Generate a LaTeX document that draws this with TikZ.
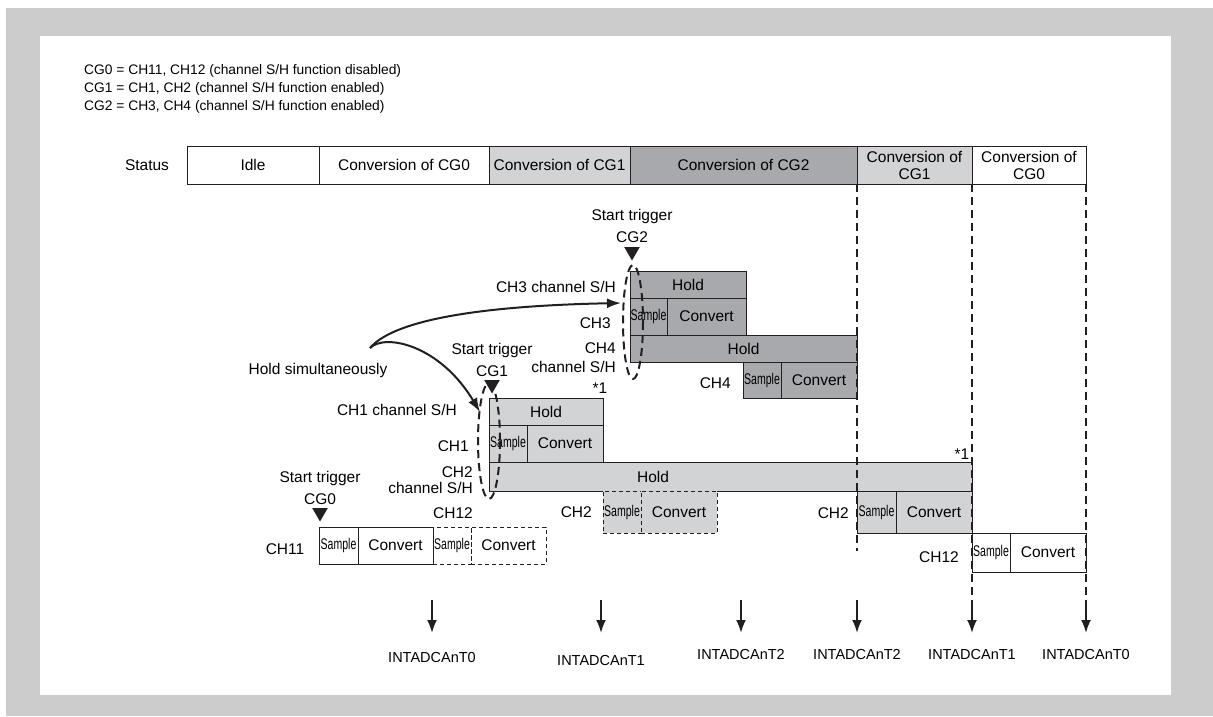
\documentclass[tikz,border=0pt]{standalone}
\usepackage{fontspec}
\setmainfont{Liberation Sans}
\usepackage{graphicx}
\usetikzlibrary{arrows.meta,positioning,shapes.geometric}

\definecolor{framegray}{RGB}{204,204,204}
\definecolor{cglight}{RGB}{209,211,212}
\definecolor{cgdark}{RGB}{167,169,172}
\definecolor{ink}{RGB}{35,31,32}
\newcommand{\smpl}{\scalebox{0.68}[1]{\fontsize{15.5}{15.5}\selectfont Sample}}

\begin{document}
\begin{tikzpicture}[
  x=1pt, y=-1pt,
  font=\fontsize{15.5}{17}\selectfont,
  seg/.style={draw=ink, line width=1pt, anchor=north west, inner sep=0pt, outer sep=0pt, align=center},
  dseg/.style={seg, dash pattern=on 4pt off 3pt},
  lbl/.style={inner sep=0pt},
  rlbl/.style={inner sep=0pt, anchor=east},
  trig/.style={regular polygon, regular polygon sides=3, shape border rotate=180,
               fill=ink, minimum size=18pt, inner sep=0pt},
  vdash/.style={draw=ink, line width=2pt, dash pattern=on 8pt off 5pt},
  hs/.style={draw=ink, line width=2pt, -{Latex[length=14pt,width=10pt]}},
  irq/.style={draw=ink, line width=2pt, -{Latex[length=13pt,width=10pt]}},
  intl/.style={inner sep=0pt, font=\fontsize{14.5}{16}\selectfont}
]
  \useasboundingbox (0,0) rectangle (1213,716);
  \fill[framegray] (6,8) rectangle (1213,716);
  \fill[white] (40,36) rectangle (1171,695);

  \node[anchor=north west, align=left, inner sep=0pt, font=\fontsize{13.8}{18}\selectfont] (cgs) at (84,64)
    {CG0 = CH11, CH12 (channel S/H function disabled)\\
     CG1 = CH1, CH2 (channel S/H function enabled)\\
     CG2 = CH3, CH4 (channel S/H function enabled)};

  % status row
  \node[lbl] (status) at (147,165) {Status};
  \node[seg, minimum width=132pt, minimum height=38pt] (sidle) at (187,146) {Idle};
  \node[seg, minimum width=170pt, minimum height=38pt] (sc0) at (sidle.north east) {Conversion of CG0};
  \node[seg, fill=cglight, minimum width=141pt, minimum height=38pt] (sc1) at (sc0.north east) {Conversion of CG1};
  \node[seg, fill=cgdark, minimum width=227pt, minimum height=38pt] (sc2) at (sc1.north east) {Conversion of CG2};
  \node[seg, fill=cglight, minimum width=115pt, minimum height=38pt] (sc1b) at (sc2.north east) {Conversion of\\CG1};
  \node[seg, minimum width=114pt, minimum height=38pt] (sc0b) at (sc1b.north east) {Conversion of\\CG0};

  % CG2: CH3, CH4
  \node[lbl, align=center, font=\fontsize{15.5}{22}\selectfont] (st2) at (632,226) {Start trigger\\CG2};
  \node[trig] (tr2) at (632,251.5) {};
  \node[seg, fill=cgdark, minimum width=116pt, minimum height=27pt] (h3) at (630,271) {Hold};
  \node[seg, fill=cgdark, minimum width=37pt, minimum height=37pt] (s3) at (h3.south west) {\smpl};
  \node[seg, fill=cgdark, minimum width=79pt, minimum height=37pt] (c3) at (s3.north east) {Convert};
  \node[seg, fill=cgdark, minimum width=227pt, minimum height=27pt] (h4) at (s3.south west) {Hold};
  \node[seg, fill=cgdark, minimum width=38pt, minimum height=36pt] (s4) at (743,362) {\smpl};
  \node[seg, fill=cgdark, minimum width=76pt, minimum height=36pt] (c4) at (s4.north east) {Convert};
  \node[rlbl] (l3sh) at (616,287) {CH3 channel S/H};
  \node[rlbl] (l3) at (611,323) {CH3};
  \node[rlbl] (l4a) at (616,348) {CH4};
  \node[rlbl] (l4b) at (616,367) {channel S/H};
  \node[rlbl] (l4) at (731,383) {CH4};
  \draw[vdash] (633,322) ellipse [x radius=10, y radius=57];

  % CG1: CH1, CH2
  \node[lbl, align=center, font=\fontsize{15.5}{22}\selectfont] (st1) at (492,360) {Start trigger\\CG1};
  \node[trig] (tr1) at (492,384.5) {};
  \node[seg, fill=cglight, minimum width=114pt, minimum height=27pt] (h1) at (489,398) {Hold};
  \node[seg, fill=cglight, minimum width=38pt, minimum height=37pt] (s1) at (h1.south west) {\smpl};
  \node[seg, fill=cglight, minimum width=76pt, minimum height=37pt] (c1) at (s1.north east) {Convert};
  \node[seg, fill=cglight, minimum width=483pt, minimum height=29pt] (h2) at (s1.south west) {};
  \node[lbl] (h2t) at (653,477) {Hold};
  \node[dseg, fill=cglight, minimum width=38pt, minimum height=42pt] (ds2) at (603,491) {\smpl};
  \node[dseg, fill=cglight, minimum width=76pt, minimum height=42pt] (dc2) at (ds2.north east) {Convert};
  \node[seg, fill=cglight, minimum width=39pt, minimum height=42pt] (s2) at (857,491) {\smpl};
  \node[seg, fill=cglight, minimum width=76pt, minimum height=42pt] (c2) at (s2.north east) {Convert};
  \node[rlbl] (l1sh) at (457,410) {CH1 channel S/H};
  \node[rlbl] (l1) at (469,446) {CH1};
  \node[rlbl] (l2a) at (473,472) {CH2};
  \node[rlbl] (l2b) at (473,488) {channel S/H};
  \node[rlbl] (l2) at (592,512) {CH2};
  \node[rlbl] (l2c) at (849,513) {CH2};
  \node[lbl] (n1a) at (600,388) {*1};
  \node[lbl] (n1b) at (962,454) {*1};
  \draw[vdash] (489,441) ellipse [x radius=11, y radius=58];

  % CG0: CH11, CH12
  \node[lbl, align=center, font=\fontsize{15.5}{22}\selectfont] (st0) at (320,488) {Start trigger\\CG0};
  \node[trig] (tr0) at (320,512.5) {};
  \node[seg, minimum width=39pt, minimum height=37pt] (s11) at (319,527) {\smpl};
  \node[seg, minimum width=75pt, minimum height=37pt] (c11) at (s11.north east) {Convert};
  \node[dseg, minimum width=38pt, minimum height=37pt] (s12) at (c11.north east) {\smpl};
  \node[dseg, minimum width=75pt, minimum height=37pt] (c12) at (s12.north east) {Convert};
  \node[seg, minimum width=38pt, minimum height=39pt] (s12b) at (972,533) {\smpl};
  \node[seg, minimum width=76pt, minimum height=39pt] (c12b) at (s12b.north east) {Convert};
  \node[lbl] (l11) at (285,549) {CH11};
  \node[lbl] (l12) at (453,513) {CH12};
  \node[lbl] (l12b) at (939,557) {CH12};

  % hold simultaneously
  \node[lbl] (hsim) at (318,370) {Hold simultaneously};
  \coordinate (hsp) at (370,348);
  \coordinate (e3) at (621,303);
  \coordinate (e1) at (480,412);
  \draw[hs] (hsp) .. controls (392,322) and (470,306) .. (e3);
  \draw[hs] (hsp) .. controls (385,333) and (440,345) .. (e1);

  % dashed time marks
  \coordinate (d2) at (857,551);
  \coordinate (d1) at (972,598);
  \coordinate (d0) at (1086,598);
  \draw[vdash] (sc2.south east) -- (d2);
  \draw[vdash] (sc1b.south east) -- (d1);
  \draw[vdash] (sc0b.south east) -- (d0);

  % interrupt requests
  \foreach \xx/\nm/\yy [count=\i] in {432/INTADCAnT0/657, 601/INTADCAnT1/660, 741/INTADCAnT2/654,
                                      857/INTADCAnT2/654, 972/INTADCAnT1/654, 1086/INTADCAnT0/654} {
    \coordinate (a\i) at (\xx,600);
    \coordinate (b\i) at (\xx,633);
    \node[intl] (int\i) at (\xx,\yy) {\nm};
    \draw[irq] (a\i) -- (b\i);
  }
\end{tikzpicture}
\end{document}
